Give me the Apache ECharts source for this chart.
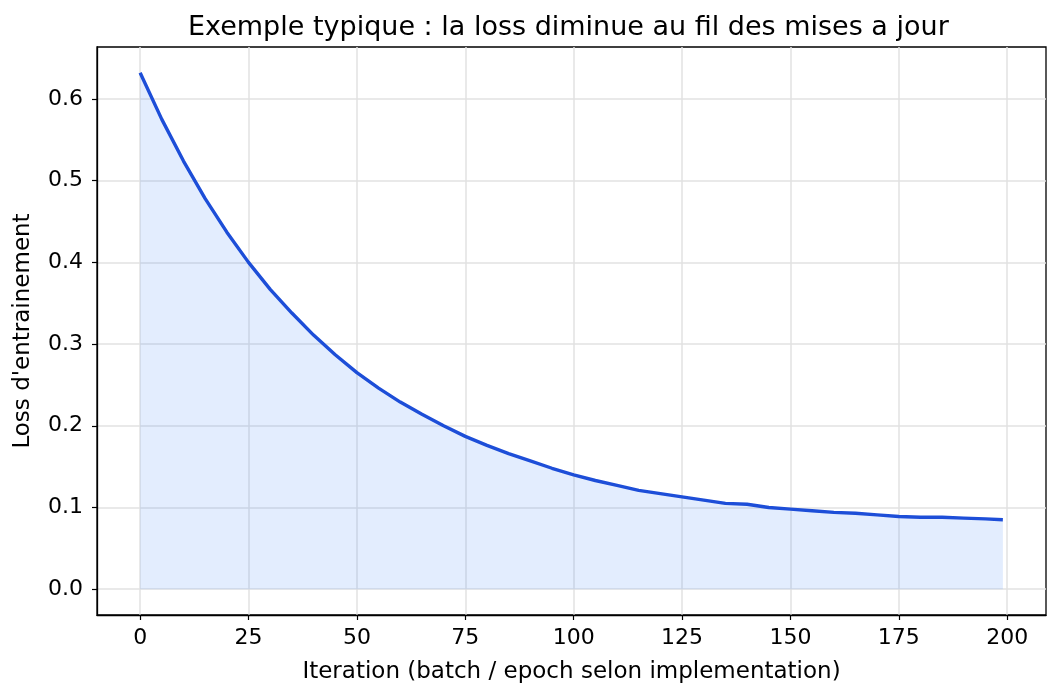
<!DOCTYPE html>
<html>
<head>
<meta charset="utf-8">
<title>Loss curve</title>
<script src="https://cdn.jsdelivr.net/npm/echarts@6/dist/echarts.min.js"></script>
<style>
  html, body { margin: 0; padding: 0; background: #fff; }
  #myChart { width: 1060px; height: 700px; }
</style>
</head>
<body>
<div id="myChart"></div>
<script>
// values (every 5 iterations)
const iters = [0, 5, 10, 15, 20, 25, 30, 35, 40, 45, 50, 55, 60, 65, 70, 75, 80, 85, 90, 95,
  100, 105, 110, 115, 120, 125, 130, 135, 140, 145, 150, 155, 160, 165, 170, 175, 180, 185, 190, 195, 199];
const loss = [0.632, 0.575, 0.524, 0.478, 0.437, 0.400, 0.367, 0.338, 0.311, 0.287,
  0.265, 0.246, 0.229, 0.214, 0.200, 0.187, 0.176, 0.166, 0.157, 0.148,
  0.140, 0.133, 0.127, 0.121, 0.117, 0.113, 0.109, 0.105, 0.104, 0.100,
  0.098, 0.096, 0.094, 0.093, 0.091, 0.089, 0.088, 0.088, 0.087, 0.086, 0.085];
const xTicks = [0, 25, 50, 75, 100, 125, 150, 175, 200];
const yTicks = [0, 0.1, 0.2, 0.3, 0.4, 0.5, 0.6];

const font = "DejaVu Sans";
const seriesData = iters.map((it, i) => [it, loss[i]]);

let myChart = echarts.init(document.getElementById("myChart"));
myChart.setOption({
  animation: false,
  title: {
    text: "Exemple typique : la loss diminue au fil des mises a jour",
    left: 188,
    top: 14,
    padding: 0,
    textStyle: { fontFamily: font, fontSize: 27, fontWeight: "normal", color: "#000" },
  },
  grid: {
    left: 97,
    right: 14,
    top: 47,
    bottom: 85,
    show: true,
    borderColor: "#000",
    borderWidth: 1.3,
    backgroundColor: "transparent",
  },
  xAxis: {
    type: "value",
    min: -9.95,
    max: 208.95,
    name: "Iteration (batch / epoch selon implementation)",
    nameLocation: "middle",
    nameGap: 46,
    nameTextStyle: { fontFamily: font, fontSize: 23, color: "#000" },
    axisLine: { show: true, onZero: false, lineStyle: { color: "#000", width: 1.3 } },
    axisTick: { show: true, length: 5, customValues: xTicks, lineStyle: { color: "#000", width: 1.2 } },
    axisLabel: { customValues: xTicks, margin: 12, fontFamily: font, fontSize: 22, color: "#000" },
    splitLine: { show: true, lineStyle: { color: "#e2e2e2", width: 1.5 } },
  },
  yAxis: {
    type: "value",
    min: -0.0316,
    max: 0.6636,
    name: "Loss d'entrainement",
    nameLocation: "middle",
    nameRotate: 90,
    nameGap: 62,
    nameTextStyle: { fontFamily: font, fontSize: 23, color: "#000" },
    axisLine: { show: true, onZero: false, lineStyle: { color: "#000", width: 1.3 } },
    axisTick: { show: true, length: 5, customValues: yTicks, lineStyle: { color: "#000", width: 1.2 } },
    axisLabel: {
      customValues: yTicks,
      margin: 14,
      fontFamily: font,
      fontSize: 22,
      color: "#000",
      formatter: (v) => v.toFixed(1),
    },
    splitLine: { show: true, lineStyle: { color: "#e2e2e2", width: 1.5 } },
  },
  series: [
    {
      name: "loss",
      type: "line",
      data: seriesData,
      showSymbol: false,
      smooth: false,
      lineStyle: { color: "#1d4ed8", width: 3.4 },
      itemStyle: { color: "#1d4ed8" },
      areaStyle: { color: "rgba(59,130,246,0.2)", origin: "auto" },
    },
  ],
});
</script>
</body>
</html>
